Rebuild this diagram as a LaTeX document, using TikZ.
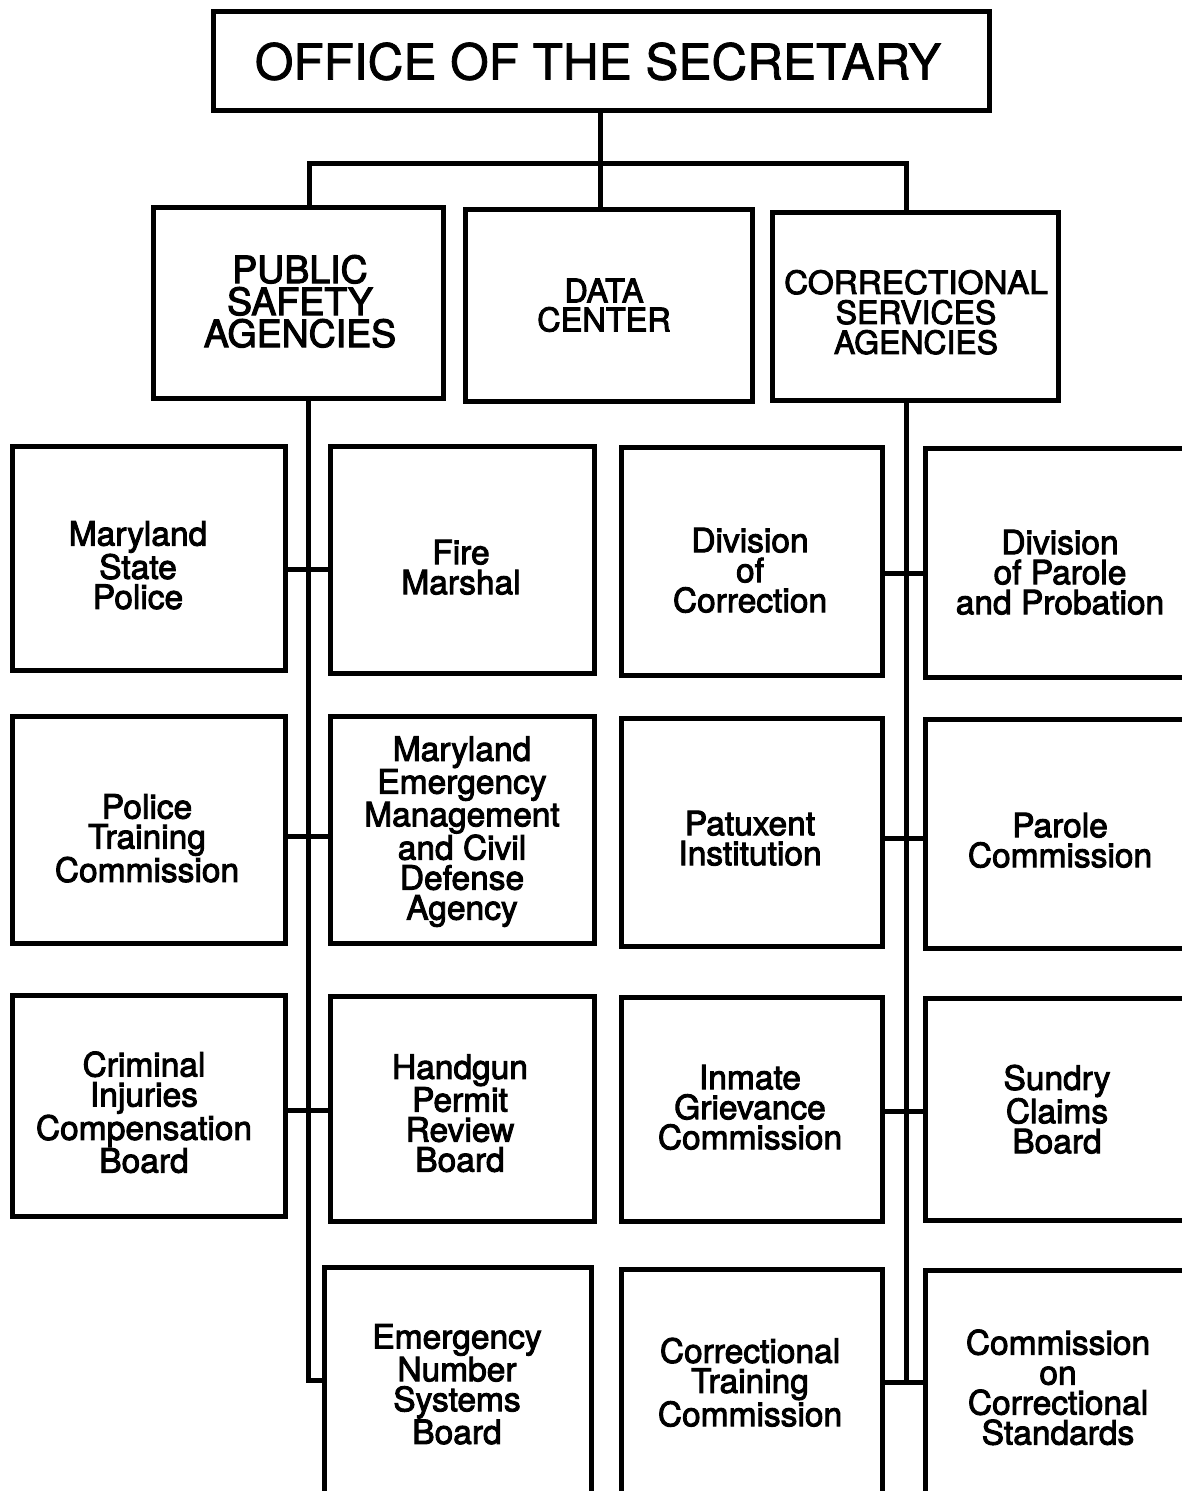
\documentclass[tikz,border=0pt]{standalone}
\usepackage{graphicx}
\usepackage{fontspec}
\setmainfont{TeX Gyre Heros}
\newfontfamily\medfont[FakeBold=2.8]{TeX Gyre Heros}
\newfontfamily\semifont[FakeBold=1.5]{TeX Gyre Heros}
\begin{document}
\begin{tikzpicture}[x=1pt,y=-1pt,
  box/.style={draw, line width=5pt, inner sep=0pt},
  conn/.style={line width=5pt},
  lbl/.style={align=center, inner sep=0pt, text depth=0pt, font=\medfont\fontsize{33.5}{30}\selectfont},
  head/.style={align=center, inner sep=0pt, text depth=0pt}]
\useasboundingbox (0,0) rectangle (1182,1491);
\fill[white] (0,0) rectangle (1182,1491);
\clip (0,0) rectangle (1182,1491);

% top level
\node[box, minimum width=776pt, minimum height=99pt] (office) at (601,60.5) {};
\node[head, font=\semifont\fontsize{49.5}{49}\selectfont] (officeT) at (598,61) {OFFICE OF THE SECRETARY};

% second level
\node[box, minimum width=290pt, minimum height=191pt] (ps) at (298,302.5) {};
\node[box, minimum width=287pt, minimum height=192pt] (dc) at (608.5,305) {};
\node[box, minimum width=286pt, minimum height=188pt] (cs) at (915,306) {};
\node[head, font=\medfont\fontsize{37.5}{32}\selectfont] (psT) at (300,301) {PUBLIC\\SAFETY\\AGENCIES};
\node[head, font=\medfont\fontsize{32.5}{29}\selectfont] (dcT) at (604,305) {DATA\\CENTER};
\node[head, font=\medfont\fontsize{32}{30}\selectfont] (csT) at (916,312) {\scalebox{1.04}[1]{CORRECTIONAL}\\SERVICES\\AGENCIES};

% left column
\node[box, minimum width=273pt, minimum height=224pt] (l1) at (148.5,558) {};
\node[box, minimum width=273pt, minimum height=227pt] (l2) at (148.5,829.5) {};
\node[box, minimum width=273pt, minimum height=221pt] (l3) at (148.5,1105.5) {};
% middle-left column
\node[box, minimum width=264pt, minimum height=227pt] (m1) at (462,559.5) {};
\node[box, minimum width=264pt, minimum height=227pt] (m2) at (462,829.5) {};
\node[box, minimum width=264pt, minimum height=225pt] (m3) at (462,1108.5) {};
\node[box, minimum width=267pt, minimum height=238pt] (m4) at (457.5,1386) {};
% middle-right column
\node[box, minimum width=261pt, minimum height=228pt] (n1) at (751.5,561) {};
\node[box, minimum width=261pt, minimum height=228pt] (n2) at (751.5,832) {};
\node[box, minimum width=261pt, minimum height=224pt] (n3) at (751.5,1109) {};
\node[box, minimum width=261pt, minimum height=236pt] (n4) at (751.5,1387) {};
% right column
\node[box, minimum width=270pt, minimum height=229pt] (r1) at (1060,562.5) {};
\node[box, minimum width=270pt, minimum height=229pt] (r2) at (1060,833.5) {};
\node[box, minimum width=270pt, minimum height=222pt] (r3) at (1060,1109) {};
\node[box, minimum width=270pt, minimum height=235pt] (r4) at (1060,1387.5) {};

% labels
\node[lbl] (l1T) at (138,565) {Maryland\\State\\Police};
\node[lbl] (l2T) at (147,838) {Police\\Training\\Commission};
\node[lbl] (l3T) at (144,1112) {Criminal\\Injuries\\Compensation\\Board};
\node[lbl] (m1T) at (461,567) {Fire\\Marshal};
\node[lbl] (m2T) at (462,828) {Maryland\\Emergency\\Management\\and Civil\\Defense\\Agency};
\node[lbl] (m3T) at (460,1113) {Handgun\\Permit\\Review\\Board};
\node[lbl] (m4T) at (457,1384) {Emergency\\Number\\Systems\\Board};
\node[lbl] (n1T) at (750,570) {Division\\of\\Correction};
\node[lbl] (n2T) at (750,838) {Patuxent\\Institution};
\node[lbl] (n3T) at (750,1107) {Inmate\\Grievance\\Commission};
\node[lbl] (n4T) at (750,1382) {Correctional\\Training\\Commission};
\node[lbl] (r1T) at (1060,572) {Division\\of Parole\\and Probation};
\node[lbl] (r2T) at (1060,840) {Parole\\Commission};
\node[lbl] (r3T) at (1057,1109) {Sundry\\Claims\\Board};
\node[lbl] (r4T) at (1058,1387) {Commission\\on\\Correctional\\Standards};

% connectors top
\coordinate (cT) at (600,163);
\coordinate (cL) at (309,163);
\coordinate (cR) at (906,163);
\draw[conn] (cT |- office.south) -- (cT |- dc.north);
\draw[conn] (cL |- ps.north) -- (cL) -- (cR) -- (cR |- cs.north);

% left trunk
\coordinate (tL1) at (308,569);
\coordinate (tL2) at (308,836);
\coordinate (tL3) at (308,1110);
\coordinate (tL4) at (308,1380);
\draw[conn] (tL1 |- ps.south) -- (tL4) -- (tL4 -| m4.west);
\draw[conn] (tL1 -| l1.east) -- (tL1 -| m1.west);
\draw[conn] (tL2 -| l2.east) -- (tL2 -| m2.west);
\draw[conn] (tL3 -| l3.east) -- (tL3 -| m3.west);

% right trunk
\coordinate (tR1) at (906,573);
\coordinate (tR2) at (906,838);
\coordinate (tR3) at (906,1111);
\coordinate (tR4) at (906,1382);
\draw[conn] (tR1 |- cs.south) -- (tR4);
\draw[conn] (tR1 -| n1.east) -- (tR1 -| r1.west);
\draw[conn] (tR2 -| n2.east) -- (tR2 -| r2.west);
\draw[conn] (tR3 -| n3.east) -- (tR3 -| r3.west);
\draw[conn] (tR4 -| n4.east) -- (tR4 -| r4.west);
\end{tikzpicture}
\end{document}
